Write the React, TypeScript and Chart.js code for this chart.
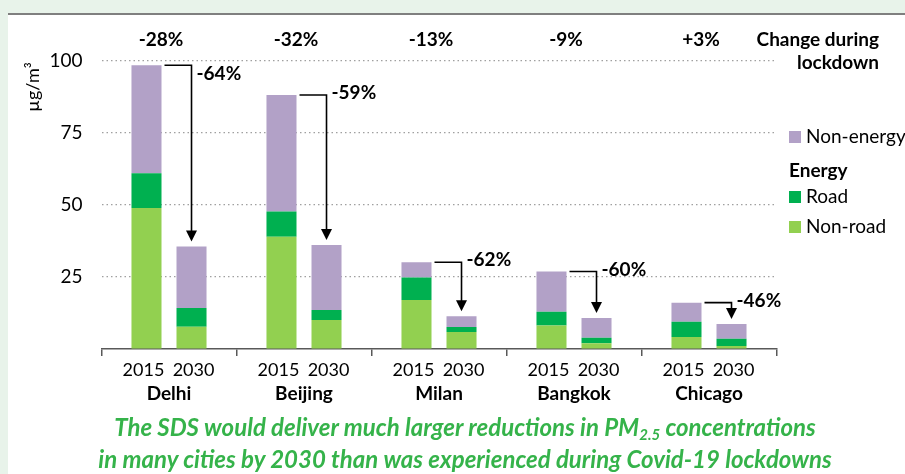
import React, { useEffect, useRef } from "react";
import { Chart, registerables } from "chart.js";

Chart.register(...registerables);

const cities = ["Delhi", "Beijing", "Milan", "Bangkok", "Chicago"];
const years = ["2015", "2030"];
const nonRoad2015 = [49, 39, 17, 8.2, 4.2];
const road2015 = [12, 8.7, 7.8, 4.7, 5.3];
const nonEnergy2015 = [37.5, 40.5, 5.3, 14, 6.6];
const nonRoad2030 = [7.7, 10.1, 5.9, 2.0, 1.0];
const road2030 = [6.5, 3.4, 1.7, 1.9, 2.6];
const nonEnergy2030 = [21.4, 22.6, 3.8, 6.9, 5.1];
const lockdownChange = ["-28%", "-32%", "-13%", "-9%", "+3%"];
const sdsChange = ["-64%", "-59%", "-62%", "-60%", "-46%"];
const yTicks = [0, 25, 50, 75, 100];

const COLORS = {
  nonEnergy: "#b2a1c7",
  road: "#00b050",
  nonRoad: "#92d050",
};
const FONT = "Lato, 'Open Sans', sans-serif";

const overlayPlugin = {
  id: "overlay",
  afterDraw(chart: any) {
    const ctx = chart.ctx as CanvasRenderingContext2D;
    const xs = chart.scales.x;
    ctx.save();
    ctx.fillStyle = "#000";
    // y axis title
    ctx.save();
    ctx.translate(33, 87);
    ctx.rotate(-Math.PI / 2);
    ctx.textAlign = "center";
    ctx.textBaseline = "middle";
    ctx.font = `18px ${FONT}`;
    ctx.fillText("µg/m³", 0, 0);
    ctx.restore();

    const m2015 = chart.getDatasetMeta(2);
    const m2030 = chart.getDatasetMeta(5);
    const labelDy = [9, -2, -2, -2, -2];

    cities.forEach((city, i) => {
      const cx = xs.getPixelForValue(i);
      const b15 = m2015.data[i];
      const b30 = m2030.data[i];
      // year labels
      ctx.fillStyle = "#000";
      ctx.textAlign = "center";
      ctx.textBaseline = "middle";
      ctx.font = `18px ${FONT}`;
      ctx.fillText(years[0], b15.x - 3, 370);
      ctx.fillText(years[1], b30.x + 2, 370);
      ctx.font = `bold 19px ${FONT}`;
      ctx.fillText(city, cx, 394);
      // lockdown change
      ctx.fillText(lockdownChange[i], cx - 8, 40);

      // arrow
      const y0 = b15.y;
      const x0 = b15.x + b15.width / 2 + 3;
      const x1 = b30.x;
      const tip = b30.y - 5;
      ctx.strokeStyle = "#000";
      ctx.lineWidth = 1.6;
      ctx.beginPath();
      ctx.moveTo(x0, y0);
      ctx.lineTo(x1, y0);
      ctx.lineTo(x1, tip - 10);
      ctx.stroke();
      ctx.beginPath();
      ctx.moveTo(x1 - 5.5, tip - 11);
      ctx.lineTo(x1 + 5.5, tip - 11);
      ctx.lineTo(x1, tip);
      ctx.closePath();
      ctx.fill();
      ctx.textAlign = "left";
      ctx.font = `bold 19px ${FONT}`;
      ctx.fillText(sdsChange[i], x1 + 5, y0 + labelDy[i]);
    });

    // header
    ctx.textAlign = "right";
    ctx.textBaseline = "middle";
    ctx.font = `bold 19px ${FONT}`;
    ctx.fillText("Change during", 879, 40);
    ctx.fillText("lockdown", 879, 63);

    // legend
    const legend = [
      { label: "Non-energy", color: COLORS.nonEnergy, y: 137 },
      { label: "Road", color: COLORS.road, y: 197 },
      { label: "Non-road", color: COLORS.nonRoad, y: 227 },
    ];
    ctx.textAlign = "left";
    ctx.font = `19px ${FONT}`;
    legend.forEach((l) => {
      ctx.fillStyle = l.color;
      ctx.fillRect(789, l.y - 6, 12, 12);
      ctx.fillStyle = "#000";
      ctx.fillText(l.label, 806, l.y);
    });
    ctx.font = `bold 19px ${FONT}`;
    ctx.fillText("Energy", 789, 171);
    ctx.restore();
  },
};

export default function App() {
  const ref = useRef<HTMLCanvasElement>(null);
  useEffect(() => {
    if (!ref.current) return;
    const mk = (label: string, data: number[], color: string, stack: string) => ({
      label,
      data,
      backgroundColor: color,
      borderWidth: 0,
      stack,
      categoryPercentage: 0.667,
      barPercentage: 0.667,
    });
    const chart = new Chart(ref.current, {
      type: "bar",
      data: {
        labels: cities,
        datasets: [
          mk("Non-road 2015", nonRoad2015, COLORS.nonRoad, "a"),
          mk("Road 2015", road2015, COLORS.road, "a"),
          mk("Non-energy 2015", nonEnergy2015, COLORS.nonEnergy, "a"),
          mk("Non-road 2030", nonRoad2030, COLORS.nonRoad, "b"),
          mk("Road 2030", road2030, COLORS.road, "b"),
          mk("Non-energy 2030", nonEnergy2030, COLORS.nonEnergy, "b"),
        ],
      },
      options: {
        animation: false,
        responsive: false,
        events: [],
        layout: { padding: { left: 0, top: 61, right: 128.5, bottom: 125 } },
        plugins: { legend: { display: false }, tooltip: { enabled: false } },
        scales: {
          x: {
            ticks: { display: false },
            grid: {
              drawOnChartArea: false,
              drawTicks: true,
              tickLength: 7,
              color: "#595959",
              lineWidth: 1.5,
              offset: true,
            },
            border: { display: true, color: "#595959", width: 1.5 },
            afterFit: (s: any) => {
              s.height = 0;
            },
          },
          y: {
            stacked: true,
            min: yTicks[0],
            max: yTicks[yTicks.length - 1],
            afterBuildTicks: (s: any) => {
              s.ticks = yTicks.map((v) => ({ value: v }));
            },
            ticks: {
              padding: 19,
              color: "#000",
              font: { family: FONT, size: 19 },
              callback: (v: any) => (v === 0 ? "" : String(v)),
            },
            grid: {
              drawTicks: false,
              color: (c: any) => (c.tick && c.tick.value === 0 ? "rgba(0,0,0,0)" : "#a0a0a0"),
              lineWidth: 1.2,
              borderDash: [1.5, 3],
            } as any,
            border: { display: false, dash: [1.5, 3] },
            afterFit: (s: any) => {
              s.width = 101.5;
            },
          },
        },
      },
      plugins: [overlayPlugin],
    } as any);
    return () => chart.destroy();
  }, []);

  const lineStyle: React.CSSProperties = { height: 32, lineHeight: "32px", whiteSpace: "nowrap" };

  return (
    <div
      style={{
        position: "fixed",
        left: 0,
        top: 0,
        width: 905,
        height: 474,
        background: "#e8f3ea",
        overflow: "hidden",
      }}
    >
      <div
        style={{
          position: "absolute",
          left: 8,
          top: 13,
          right: 0,
          bottom: 0,
          background: "#ffffff",
          borderTop: "2px solid #7f7f7f",
        }}
      />
      <canvas ref={ref} width={905} height={474} style={{ position: "absolute", left: 0, top: 0 }} />
      <div
        style={{
          position: "absolute",
          left: 25,
          width: 880,
          top: 411,
          textAlign: "center",
          color: "#35b34a",
          fontFamily: FONT,
          fontStyle: "italic",
          fontWeight: 700,
          fontSize: 24,
        }}
      >
        <div style={lineStyle}>
          The SDS would deliver much larger reductions in PM
          <span style={{ fontSize: 15, lineHeight: 0, position: "relative", top: 4 }}>2.5</span> concentrations
        </div>
        <div style={lineStyle}>in many cities by 2030 than was experienced during Covid-19 lockdowns</div>
      </div>
    </div>
  );
}
